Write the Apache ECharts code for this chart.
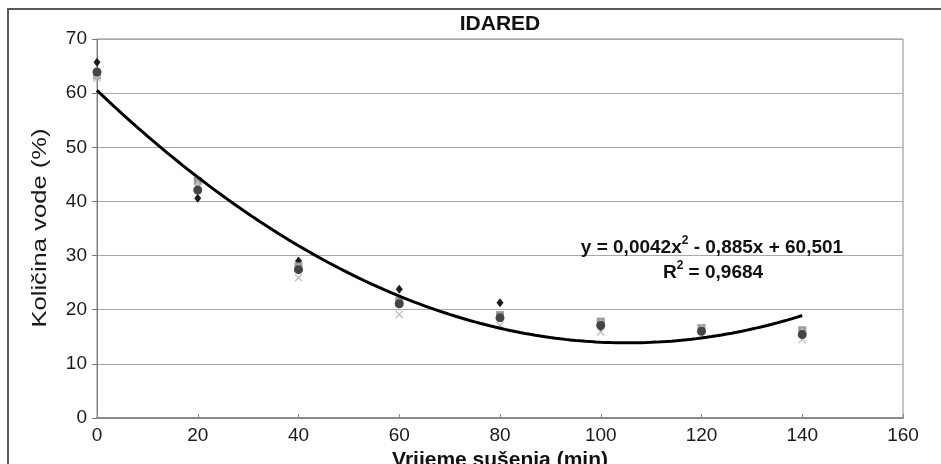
<!DOCTYPE html>
<html>
<head>
<meta charset="utf-8">
<title>IDARED</title>
<script src="https://cdn.jsdelivr.net/npm/echarts@6/dist/echarts.min.js"></script>
<style>
  html, body { margin: 0; padding: 0; background: #fff; }
  #chart { width: 941px; height: 464px; }
</style>
</head>
<body>
<div id="chart"></div>
<script>
// Drying time (min) and measured water content (%) for the repeated samples
const dryingTime = [0, 20, 40, 60, 80, 100, 120, 140];
const sample1 = [65.7, 40.6, 29.0, 23.8, 21.3, 16.8, 16.2, 15.6];
const sample2 = [63.3, 43.8, 28.0, 21.6, 19.0, 17.8, 16.6, 16.2];
const sample3 = [63.6, 43.2, 27.8, 21.3, 18.8, 17.6, 16.6, 16.0];
const sample4 = [62.8, 42.6, 25.9, 19.1, 17.1, 15.9, 15.3, 14.5];
const sample5 = [63.9, 42.1, 27.4, 21.1, 18.5, 17.1, 16.0, 15.4];

// Polynomial trend line coefficients (a*x^2 + b*x + c) and its R^2
const trendCoeffs = [0.0042, -0.885, 60.501];
const trendR2 = '0,9684';

const xTicks = [0, 20, 40, 60, 80, 100, 120, 140, 160];
const yTicks = [0, 10, 20, 30, 40, 50, 60, 70];

const FONT = '"Liberation Sans", Arial, sans-serif';

function pairs(values) {
  return dryingTime.map((t, i) => [t, values[i]]);
}

// Trend curve evaluated along the fitted range
const trendLine = [];
for (let t = 0; t <= 140; t += 1) {
  trendLine.push([t, trendCoeffs[0] * t * t + trendCoeffs[1] * t + trendCoeffs[2]]);
}

const crossPath = 'path://M0,1 L1,0 L5,4 L9,0 L10,1 L6,5 L10,9 L9,10 L5,6 L1,10 L0,9 L4,5 Z';

function scatter(name, data, symbol, size, color, z) {
  return {
    name: name,
    type: 'scatter',
    data: pairs(data),
    symbol: symbol,
    symbolSize: size,
    itemStyle: { color: color, opacity: 1 },
    z: z,
    emphasis: { disabled: true }
  };
}

const chart = echarts.init(document.getElementById('chart'), null, { renderer: 'canvas' });

chart.setOption({
  backgroundColor: '#fff',
  animation: false,
  textStyle: { fontFamily: FONT },
  grid: {
    left: 97, top: 39, width: 806, height: 379,
    outerBoundsMode: 'none',
    containLabel: false,
    show: true, borderColor: '#8a8a8a', borderWidth: 1, backgroundColor: 'transparent'
  },
  xAxis: {
    type: 'value',
    min: xTicks[0], max: xTicks[xTicks.length - 1], interval: 20,
    name: 'Vrijeme sušenja (min)',
    nameLocation: 'middle',
    nameGap: 27,
    nameTextStyle: { fontFamily: FONT, fontSize: 21, fontWeight: 'bold', color: '#111' },
    axisLine: { show: true, lineStyle: { color: '#8a8a8a', width: 2 } },
    axisTick: { show: true, inside: true, length: 4, lineStyle: { color: '#8a8a8a' } },
    axisLabel: { fontFamily: FONT, fontSize: 19, color: '#1a1a1a', margin: 8 },
    splitLine: { show: false }
  },
  yAxis: {
    type: 'value',
    min: yTicks[0], max: yTicks[yTicks.length - 1], interval: 10,
    axisLine: { show: true, lineStyle: { color: '#7a7a7a', width: 1 } },
    axisTick: { show: true, inside: false, length: 5, lineStyle: { color: '#7a7a7a' } },
    axisLabel: { fontFamily: FONT, fontSize: 19, color: '#1a1a1a', margin: 10 },
    splitLine: { show: true, lineStyle: { color: '#a8a8a8', width: 1 } }
  },
  series: [
    scatter('1', sample1, 'diamond', [7, 9], '#1c1c1c', 3),
    scatter('2', sample2, 'rect', 8, '#9a9a9a', 4),
    scatter('3', sample3, 'triangle', 8, '#c4c4c4', 5),
    scatter('4', sample4, crossPath, 8, '#b8b8b8', 6),
    scatter('5', sample5, 'circle', 9, '#454545', 7),
    {
      name: 'trend',
      type: 'line',
      data: trendLine,
      showSymbol: false,
      symbol: 'none',
      smooth: false,
      lineStyle: { color: '#000', width: 3 },
      z: 10,
      silent: true
    }
  ],
  graphic: [
    {
      type: 'rect',
      shape: { x: 8, y: 9, width: 1000, height: 500 },
      style: { fill: 'none', stroke: '#5a5a5a', lineWidth: 2 },
      silent: true, z: 0
    },
    {
      type: 'text',
      x: 500, y: 24,
      style: {
        text: 'IDARED',
        font: 'bold 21px ' + FONT,
        fill: '#111',
        align: 'center',
        verticalAlign: 'middle'
      },
      z: 20
    },
    {
      // vertical axis title, widened along its reading direction
      type: 'text',
      x: 40, y: 228,
      rotation: Math.PI / 2,
      scaleX: 1.28,
      style: {
        text: 'Količina vode (%)',
        font: '20px ' + FONT,
        fill: '#1a1a1a',
        align: 'center',
        verticalAlign: 'middle'
      },
      z: 20
    },
    {
      type: 'text',
      x: 712, y: 246,
      style: {
        text: '{t|y = 0,0042x}{s|2}{t| - 0,885x + 60,501}',
        align: 'center',
        verticalAlign: 'middle',
        rich: {
          t: { font: 'bold 19px ' + FONT, fill: '#111', verticalAlign: 'bottom', lineHeight: 22 },
          s: { font: 'bold 12px ' + FONT, fill: '#111', verticalAlign: 'top', lineHeight: 22 }
        }
      },
      z: 20
    },
    {
      type: 'text',
      x: 713, y: 271,
      style: {
        text: '{t|R}{s|2}{t| = ' + trendR2 + '}',
        align: 'center',
        verticalAlign: 'middle',
        rich: {
          t: { font: 'bold 19px ' + FONT, fill: '#111', verticalAlign: 'bottom', lineHeight: 22 },
          s: { font: 'bold 12px ' + FONT, fill: '#111', verticalAlign: 'top', lineHeight: 22 }
        }
      },
      z: 20
    }
  ]
});
</script>
</body>
</html>
